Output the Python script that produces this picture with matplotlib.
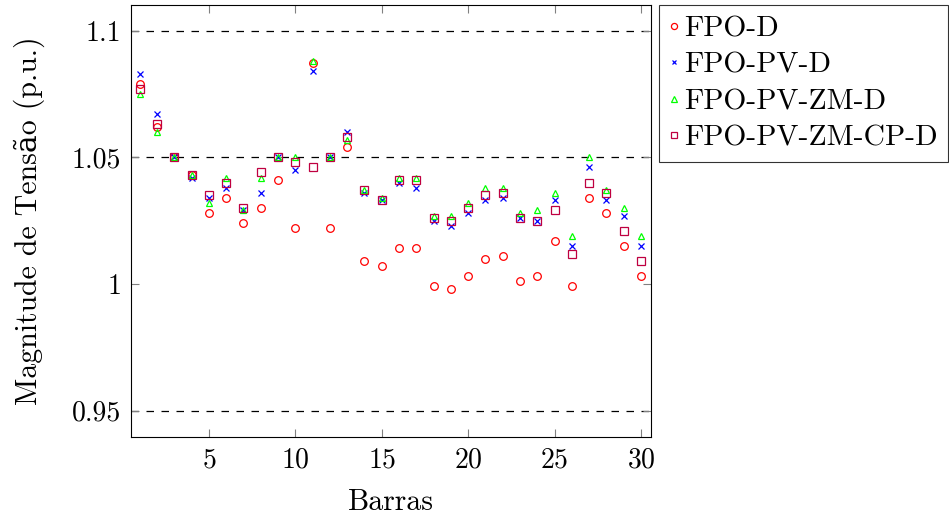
import matplotlib
matplotlib.use("Agg")
import matplotlib.pyplot as plt

plt.rcParams['font.family'] = ['cmr10', 'DejaVu Serif']
plt.rcParams['mathtext.fontset'] = 'cm'
plt.rcParams['axes.formatter.use_mathtext'] = True

barras = list(range(1, 31))

fpo_d = [1.079, 1.062, 1.050, 1.043, 1.028, 1.034, 1.024, 1.030, 1.041, 1.022,
         1.087, 1.022, 1.054, 1.009, 1.007, 1.014, 1.014, 0.999, 0.998, 1.003,
         1.010, 1.011, 1.001, 1.003, 1.017, 0.999, 1.034, 1.028, 1.015, 1.003]

fpo_pv_d = [1.083, 1.067, 1.050, 1.042, 1.034, 1.038, 1.029, 1.036, 1.050, 1.045,
            1.084, 1.050, 1.060, 1.036, 1.033, 1.040, 1.038, 1.025, 1.023, 1.028,
            1.033, 1.034, 1.026, 1.025, 1.033, 1.015, 1.046, 1.033, 1.027, 1.015]

fpo_pv_zm_d = [1.075, 1.060, 1.050, 1.043, 1.032, 1.042, 1.029, 1.042, 1.050, 1.050,
               1.088, 1.050, 1.057, 1.037, 1.034, 1.042, 1.042, 1.027, 1.027, 1.032,
               1.038, 1.038, 1.028, 1.029, 1.036, 1.019, 1.050, 1.037, 1.030, 1.019]

fpo_pv_zm_cp_d = [1.077, 1.063, 1.050, 1.043, 1.035, 1.040, 1.030, 1.044, 1.050, 1.048,
                  1.046, 1.050, 1.058, 1.037, 1.033, 1.041, 1.041, 1.026, 1.025, 1.030,
                  1.035, 1.036, 1.026, 1.025, 1.029, 1.012, 1.040, 1.036, 1.021, 1.009]

limites = [0.95, 1.05, 1.1]

fig = plt.figure(figsize=(9.49, 5.2), dpi=100)
ax = fig.add_axes([0.138, 0.1596, 0.548, 0.8304])

for y in limites:
    ax.axhline(y, color='black', linestyle=(0, (6, 6)), linewidth=0.9, zorder=1)

ax.plot(barras, fpo_d, linestyle='none', marker='o', markersize=5.5,
        markerfacecolor='none', markeredgecolor='red', markeredgewidth=0.9, label='FPO-D')
ax.plot(barras, fpo_pv_d, linestyle='none', marker='x', markersize=4,
        color='blue', markeredgewidth=0.9, label='FPO-PV-D')
ax.plot(barras, fpo_pv_zm_d, linestyle='none', marker='^', markersize=5,
        markerfacecolor='none', markeredgecolor='#00ff00', markeredgewidth=0.9, label='FPO-PV-ZM-D')
ax.plot(barras, fpo_pv_zm_cp_d, linestyle='none', marker='s', markersize=5.5,
        markerfacecolor='none', markeredgecolor='#bf0040', markeredgewidth=0.9, label='FPO-PV-ZM-CP-D')

ax.set_xlim(0.49, 30.58)
ax.set_ylim(0.9396, 1.110)
ax.set_xticks([5, 10, 15, 20, 25, 30])
ax.set_yticks([0.95, 1.0, 1.05, 1.1])
ax.set_yticklabels(['0.95', '1', '1.05', '1.1'])
ax.tick_params(direction='in', labelsize=20, top=True, right=True, length=6,
               color='#808080', pad=7)
ax.set_xlabel('Barras', fontsize=21.5, labelpad=11)
ax.set_ylabel('Magnitude de Tensão (p.u.)', fontsize=21.5, labelpad=19)

leg = ax.legend(loc='upper left', bbox_to_anchor=(1.0155, 1.0), fontsize=21.3,
                frameon=True, fancybox=False, edgecolor='black', borderpad=0.35,
                handletextpad=0.2, handlelength=0.3, labelspacing=0.33, borderaxespad=0,
                markerscale=0.8)
leg.get_frame().set_linewidth(0.8)

fig.savefig('out.png', dpi=100)
